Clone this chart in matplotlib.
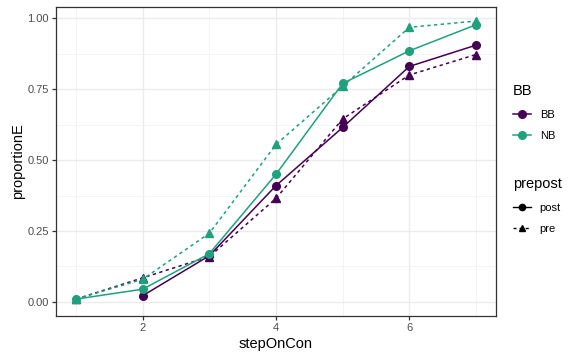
import matplotlib
matplotlib.use("Agg")
import matplotlib.pyplot as plt
from matplotlib.lines import Line2D
from matplotlib.ticker import MultipleLocator

plt.rcParams["font.family"] = ["Liberation Sans", "DejaVu Sans"]

# data
steps = [1, 2, 3, 4, 5, 6, 7]
bb_post_x = [2, 3, 4, 5, 6, 7]
bb_post = [0.022, 0.163, 0.41, 0.615, 0.83, 0.905]
bb_pre = [0.01, 0.085, 0.16, 0.365, 0.645, 0.80, 0.872]
nb_post = [0.01, 0.045, 0.17, 0.45, 0.77, 0.885, 0.977]
nb_pre = [0.01, 0.08, 0.242, 0.555, 0.76, 0.968, 0.99]

col_bb = "#440154"
col_nb = "#21A07C"
solid = "-"
dashed = (0, (2.2, 2.2))

fig = plt.figure(figsize=(5.71, 3.54), dpi=100)
ax = fig.add_axes([56 / 571, 1 - 316 / 354, 440 / 571, 309 / 354])

ax.plot(bb_post_x, bb_post, color=col_bb, ls=solid, lw=1.1, marker="o", ms=5.5)
ax.plot(steps, bb_pre, color=col_bb, ls=dashed, lw=1.1, marker="^", ms=6)
ax.plot(steps, nb_post, color=col_nb, ls=solid, lw=1.1, marker="o", ms=5.5)
ax.plot(steps, nb_pre, color=col_nb, ls=dashed, lw=1.1, marker="^", ms=6)

ax.set_xlim(0.7, 7.3)
ax.set_ylim(-0.0495, 1.0395)
ax.xaxis.set_minor_locator(MultipleLocator(1))
ax.yaxis.set_minor_locator(MultipleLocator(0.125))
ax.set_yticks([0, 0.25, 0.5, 0.75, 1.0])
ax.set_yticklabels(["0.00", "0.25", "0.50", "0.75", "1.00"])
ax.set_xticks([2, 4, 6])
ax.set_xticklabels(["2", "4", "6"])

ax.grid(which="major", color="#EBEBEB", lw=1.0)
ax.grid(which="minor", color="#F2F2F2", lw=0.6)
ax.set_axisbelow(True)
for s in ax.spines.values():
    s.set_color("#333333")
    s.set_linewidth(0.9)
ax.tick_params(which="major", length=3, width=0.9, color="#333333",
               labelsize=8, labelcolor="#4D4D4D", pad=2)
ax.tick_params(which="minor", length=0)

ax.set_xlabel("stepOnCon", fontsize=10.5, labelpad=3)
ax.set_ylabel("proportionE", fontsize=10.5, labelpad=2)

# legends
h_bb = [Line2D([], [], color=col_bb, marker="o", ms=5.5, lw=1.1),
        Line2D([], [], color=col_nb, marker="o", ms=5.5, lw=1.1)]
leg1 = fig.legend(h_bb, ["BB", "NB"], title="BB", loc="upper left",
                  bbox_to_anchor=(503 / 571, 1 - 74 / 354), frameon=False,
                  fontsize=8, title_fontsize=10.5, handlelength=1.6,
                  handletextpad=0.8, labelspacing=1.05)
leg1._legend_box.align = "left"

h_pp = [Line2D([], [], color="black", marker="o", ms=4.5, lw=1.0, ls=solid),
        Line2D([], [], color="black", marker="^", ms=5, lw=1.0, ls=dashed)]
leg2 = fig.legend(h_pp, ["post", "pre"], title="prepost", loc="upper left",
                  bbox_to_anchor=(503 / 571, 1 - 167 / 354), frameon=False,
                  fontsize=8, title_fontsize=10.5, handlelength=1.6,
                  handletextpad=0.8, labelspacing=1.05)
leg2._legend_box.align = "left"

fig.savefig("out.png", dpi=100)
